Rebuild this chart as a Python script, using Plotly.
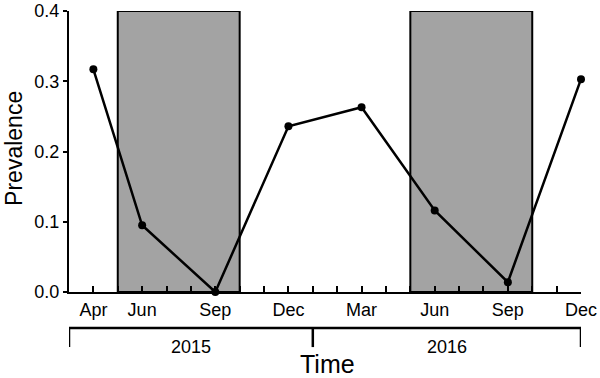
import plotly.graph_objects as go

# Data (months counted from Jan 2015 = 0)
sample_month = [3, 5, 8, 11, 14, 17, 20, 23]
sample_label = ["Apr", "Jun", "Sep", "Dec", "Mar", "Jun", "Sep", "Dec"]
prevalence = [0.317, 0.095, 0.0, 0.236, 0.263, 0.116, 0.014, 0.303]
shaded_start = [4, 16]
shaded_end = [9, 21]
year_labels = ["2015", "2016"]
year_start = [2, 12]
year_end = [12, 23]
y_ticks = [0.0, 0.1, 0.2, 0.3, 0.4]

FONT = "Liberation Sans, Arial, sans-serif"

fig = go.Figure()
fig.add_trace(go.Scatter(
    x=sample_month, y=prevalence, mode="lines+markers",
    line=dict(color="black", width=2.5),
    marker=dict(color="black", size=8),
    cliponaxis=False, showlegend=False,
))

shapes = []
for s, e in zip(shaded_start, shaded_end):
    shapes.append(dict(type="rect", xref="x", yref="y", x0=s, x1=e, y0=0, y1=0.4,
                       fillcolor="#a3a3a3", line=dict(color="black", width=2),
                       layer="below"))

# year bracket
y_br = -0.128
y_br_end = -0.196
shapes.append(dict(type="line", xref="x", yref="paper", x0=year_start[0], x1=year_end[-1],
                   y0=y_br, y1=y_br, line=dict(color="black", width=2.5)))
for xv in sorted(set(year_start + year_end)):
    shapes.append(dict(type="line", xref="x", yref="paper", x0=xv, x1=xv,
                       y0=y_br, y1=y_br_end, line=dict(color="black", width=2.5)))

annotations = []
for lab, s, e in zip(year_labels, year_start, year_end):
    annotations.append(dict(text=lab, x=(s + e) / 2, y=-0.196, xref="x", yref="paper",
                            showarrow=False, xanchor="center", yanchor="middle",
                            font=dict(family=FONT, size=18, color="black")))
annotations.append(dict(text="Time", x=(year_start[0] + year_end[-1]) / 2 + 0.1, y=-0.258,
                        xref="x", yref="paper", showarrow=False,
                        xanchor="center", yanchor="middle",
                        font=dict(family=FONT, size=25, color="black")))
annotations.append(dict(text="Prevalence", x=-0.109, y=0.51, xref="paper", yref="paper",
                        showarrow=False, textangle=-90, xanchor="center", yanchor="middle",
                        font=dict(family=FONT, size=23, color="black")))

all_months = list(range(year_start[0], year_end[-1] + 1))
tick_text = [sample_label[sample_month.index(m)] if m in sample_month else "" for m in all_months]

fig.update_layout(
    width=600, height=378,
    margin=dict(l=69, r=19, t=11, b=86, autoexpand=False),
    paper_bgcolor="white", plot_bgcolor="white",
    shapes=shapes, annotations=annotations,
    font=dict(family=FONT, color="black"),
    xaxis=dict(range=[year_start[0], year_end[-1]], tickvals=all_months, ticktext=tick_text,
               ticks="inside", ticklen=6, tickwidth=1.5, tickcolor="black", automargin=False,
               showline=True, linecolor="black", linewidth=2, showgrid=False,
               zeroline=False, tickfont=dict(size=18, family=FONT, color="black")),
    yaxis=dict(range=[0, 0.4], tickvals=y_ticks, tickformat=".1f", automargin=False,
               ticks="outside", ticklen=4, tickwidth=1.5, tickcolor="black",
               showline=True, linecolor="black", linewidth=2, showgrid=False,
               zeroline=False, tickfont=dict(size=18, family=FONT, color="black")),
)

fig.write_html("out.html", config={"displayModeBar": False},
               post_script="document.body.style.margin='0';document.body.style.overflow='hidden';")
